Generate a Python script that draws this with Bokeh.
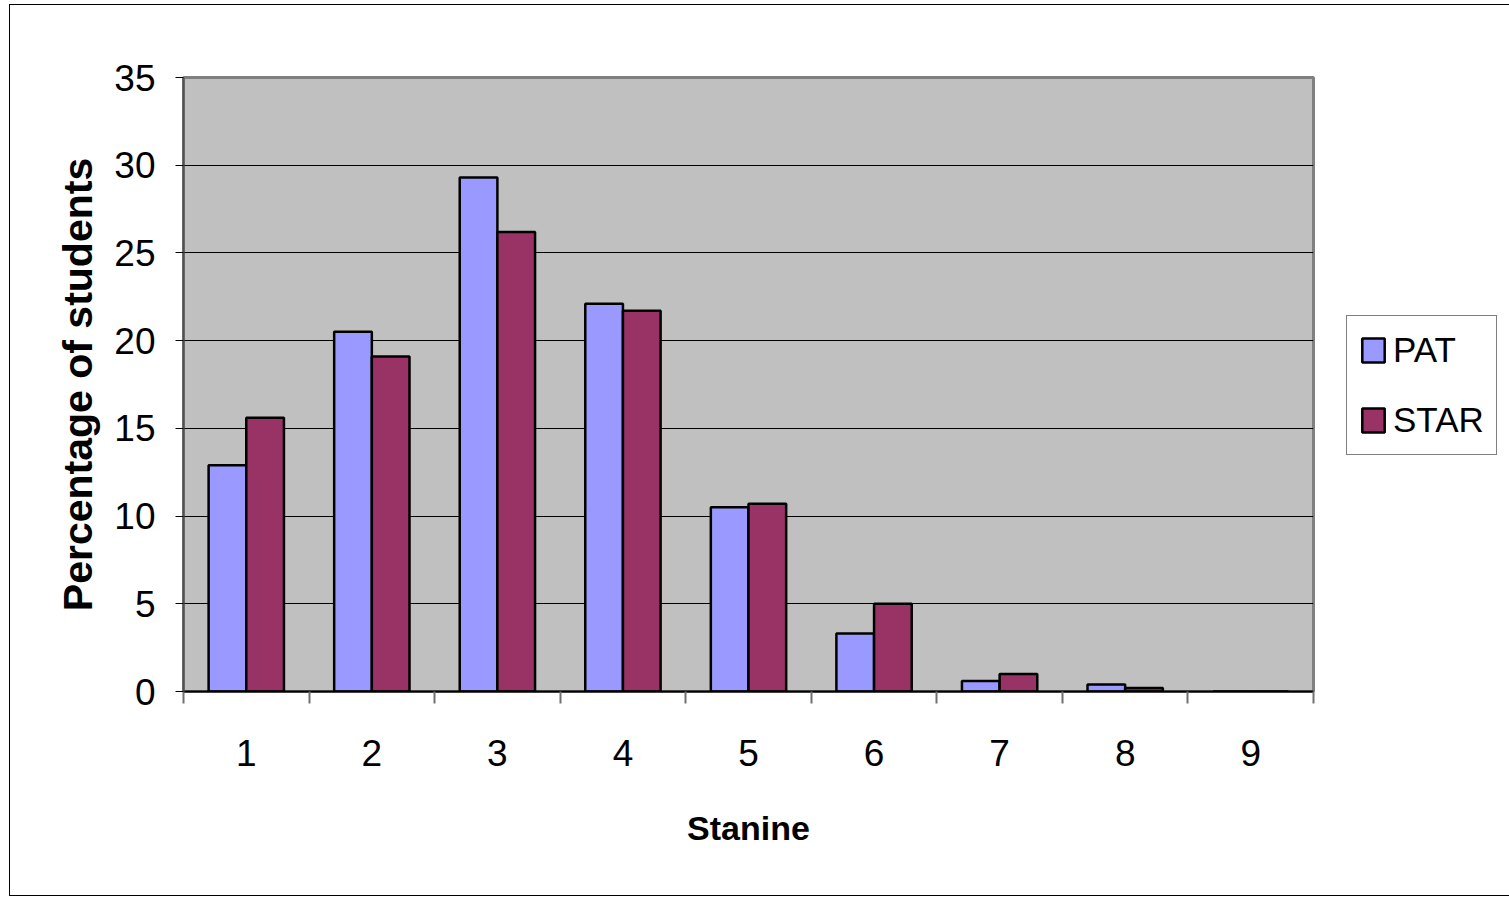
from bokeh.plotting import figure
from bokeh.models import Range1d, FixedTicker, Legend, LegendItem, ColumnDataSource
from bokeh.embed import file_html
from bokeh.resources import INLINE

stanines = [1, 2, 3, 4, 5, 6, 7, 8, 9]
pat = [12.9, 20.5, 29.3, 22.1, 10.5, 3.3, 0.6, 0.4, 0.0]
star = [15.6, 19.1, 26.2, 21.7, 10.7, 5.0, 1.0, 0.2, 0.0]
y_ticks = [0, 5, 10, 15, 20, 25, 30, 35]
series_names = ["PAT", "STAR"]

FONT = "Liberation Sans"

p = figure(frame_width=1130, frame_height=614, output_backend="svg", toolbar_location=None,
           x_range=Range1d(0.5, 9.5), y_range=Range1d(0, 35),
           min_border_left=173, min_border_top=72, min_border_right=191, min_border_bottom=204)
p.styles = {"border": "1px solid black", "margin-left": "9px", "margin-top": "4px"}
p.background_fill_color = "#C0C0C0"
p.border_fill_color = "white"
p.outline_line_color = "#808080"
p.outline_line_width = 3

src = ColumnDataSource(dict(
    x_pat=[s - 0.15 for s in stanines],
    x_star=[s + 0.15 for s in stanines],
    pat=pat, star=star))

r1 = p.vbar(x="x_pat", top="pat", width=0.3, source=src, fill_color="#9999FF",
            line_color="black", line_width=2.5)
r2 = p.vbar(x="x_star", top="star", width=0.3, source=src, fill_color="#993366",
            line_color="black", line_width=2.5)

# grid
p.xgrid.grid_line_color = None
p.ygrid.grid_line_color = "black"
p.ygrid.grid_line_width = 1
p.ygrid.ticker = FixedTicker(ticks=y_ticks)

# y axis
p.yaxis.ticker = FixedTicker(ticks=y_ticks)
p.yaxis.axis_line_color = "#505050"
p.yaxis.axis_line_width = 2
p.yaxis.major_tick_line_color = "black"
p.yaxis.major_tick_in = 0
p.yaxis.major_tick_out = 8
p.yaxis.minor_tick_line_color = None
p.yaxis.major_label_text_font = FONT
p.yaxis.major_label_text_font_size = "37px"
p.yaxis.major_label_text_color = "black"
p.yaxis.major_label_standoff = 20
p.yaxis.axis_label = "Percentage of students"
p.yaxis.axis_label_text_font = FONT
p.yaxis.axis_label_text_font_size = "41px"
p.yaxis.axis_label_text_font_style = "bold"
p.yaxis.axis_label_text_color = "black"
p.yaxis.axis_label_standoff = 10

# x axis
p.xaxis.ticker = FixedTicker(ticks=stanines, minor_ticks=[s - 0.5 for s in stanines] + [9.5])
p.xaxis.axis_line_color = "black"
p.xaxis.axis_line_width = 2
p.xaxis.major_tick_line_color = None
p.xaxis.minor_tick_line_color = "#707070"
p.xaxis.minor_tick_line_width = 2
p.xaxis.minor_tick_in = 0
p.xaxis.minor_tick_out = 12
p.xaxis.major_label_text_font = FONT
p.xaxis.major_label_text_font_size = "37px"
p.xaxis.major_label_text_color = "black"
p.xaxis.major_label_standoff = 36
p.xaxis.axis_label = "Stanine"
p.xaxis.axis_label_text_font = FONT
p.xaxis.axis_label_text_font_size = "34px"
p.xaxis.axis_label_text_font_style = "bold"
p.xaxis.axis_label_text_color = "black"
p.xaxis.axis_label_standoff = 40

legend = Legend(items=[LegendItem(label=series_names[0], renderers=[r1]),
                       LegendItem(label=series_names[1], renderers=[r2])],
                location=(33, 236), orientation="vertical")
legend.margin = 0
legend.padding = 12
legend.spacing = 26
legend.glyph_width = 28
legend.glyph_height = 30
legend.label_height = 44
legend.label_standoff = 6
legend.label_text_font = FONT
legend.label_text_font_size = "35px"
legend.label_text_color = "black"
legend.border_line_color = "black"
legend.border_line_width = 1
legend.background_fill_color = "white"
legend.background_fill_alpha = 1
p.add_layout(legend, "right")

open("out.html", "w").write(file_html(p, INLINE))
